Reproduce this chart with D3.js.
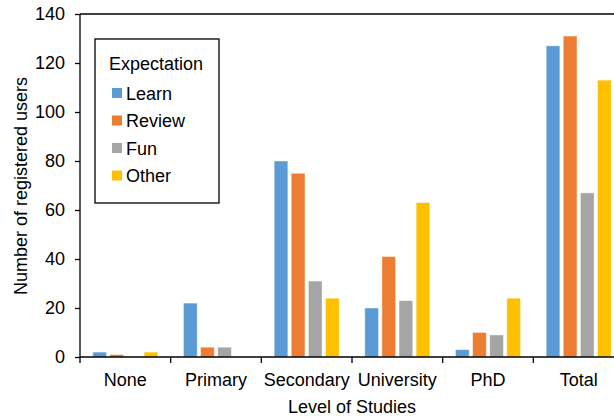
<!DOCTYPE html>
<html>
<head>
<meta charset="utf-8">
<script src="https://cdn.jsdelivr.net/npm/d3@7"></script>
<style>
  body { margin: 0; background: #fff; }
  svg { display: block; font-family: "Liberation Sans", Arial, sans-serif; }
</style>
</head>
<body>
<svg id="chart" width="614" height="417"></svg>
<script>
const levels = ["None", "Primary", "Secondary", "University", "PhD", "Total"];
const expectations = ["Learn", "Review", "Fun", "Other"];
const colors = ["#5B9BD5", "#ED7D31", "#A5A5A5", "#FFC000"];
const learn = [2, 22, 80, 20, 3, 127];
const review = [1, 4, 75, 41, 10, 131];
const fun = [0, 4, 31, 23, 9, 67];
const other = [2, 0, 24, 63, 24, 113];
const yTicks = [0, 20, 40, 60, 80, 100, 120, 140];

const series = [learn, review, fun, other];

const svg = d3.select("#chart");
const plotLeft = 80, plotRight = 624, plotTop = 14, plotBottom = 357;
const fs = 18;

const x = d3.scaleBand().domain(levels).range([plotLeft, plotRight]);
const inner = d3.scaleBand().domain(expectations)
    .range([0, x.bandwidth()]).paddingOuter(0.75).paddingInner(0.2);
const y = d3.scaleLinear().domain([0, 140]).range([plotBottom, plotTop]);

// top border
svg.append("line")
    .attr("x1", plotLeft).attr("x2", plotRight)
    .attr("y1", plotTop).attr("y2", plotTop)
    .attr("stroke", "#000").attr("stroke-width", 1.3);

// bars
const groups = svg.append("g").selectAll("g")
    .data(levels)
    .join("g")
    .attr("transform", d => `translate(${x(d)},0)`);

groups.selectAll("rect")
    .data((d, i) => expectations.map((e, j) => ({ e: e, v: series[j][i], c: colors[j] })))
    .join("rect")
    .attr("x", d => inner(d.e))
    .attr("width", inner.bandwidth())
    .attr("y", d => y(d.v))
    .attr("height", d => plotBottom - y(d.v))
    .attr("fill", d => d.c)
    .attr("stroke", "#fff")
    .attr("stroke-opacity", 0.5)
    .attr("stroke-width", 0.8);

// axes
const yAxis = d3.axisLeft(y).tickValues(yTicks).tickSize(5).tickPadding(10);
const yG = svg.append("g").attr("transform", `translate(${plotLeft},0)`).call(yAxis);
yG.select(".domain").attr("stroke-width", 1.3).attr("d", `M0,${plotBottom}V${plotTop}`);

const xAxis = d3.axisBottom(x).tickSize(0).tickPadding(16);
const xG = svg.append("g").attr("transform", `translate(0,${plotBottom})`).call(xAxis);
xG.select(".domain").attr("stroke-width", 1.3).attr("d", `M${plotLeft},0H${plotRight}`);
xG.selectAll(".tickmark")
    .data(levels)
    .join("line")
    .attr("class", "tickmark")
    .attr("x1", d => x(d)).attr("x2", d => x(d))
    .attr("y1", 0).attr("y2", 6)
    .attr("stroke", "#000").attr("stroke-width", 1.3);

svg.selectAll(".tick text")
    .attr("font-size", fs)
    .attr("fill", "#000")
    .attr("font-family", "Liberation Sans, Arial, sans-serif");
svg.selectAll(".tick line").attr("stroke-width", 1.3);

// axis titles
svg.append("text")
    .attr("x", 352).attr("y", 413)
    .attr("text-anchor", "middle")
    .attr("font-size", fs)
    .text("Level of Studies");

svg.append("text")
    .attr("transform", `translate(27,186) rotate(-90)`)
    .attr("text-anchor", "middle")
    .attr("font-size", fs)
    .text("Number of registered users");

// legend
const legend = svg.append("g");
legend.append("rect")
    .attr("x", 95).attr("y", 39)
    .attr("width", 124).attr("height", 164)
    .attr("fill", "#fff").attr("stroke", "#000").attr("stroke-width", 1.3);
legend.append("text")
    .attr("x", 109).attr("y", 70)
    .attr("font-size", fs)
    .text("Expectation");
const items = legend.selectAll(".item")
    .data(expectations)
    .join("g")
    .attr("class", "item")
    .attr("transform", (d, i) => `translate(112,${93 + i * 27.5})`);
items.append("rect")
    .attr("x", 0).attr("y", -5)
    .attr("width", 10).attr("height", 10)
    .attr("fill", (d, i) => colors[i]);
items.append("text")
    .attr("x", 14).attr("y", 6.5)
    .attr("font-size", fs)
    .text(d => d);
</script>
</body>
</html>
